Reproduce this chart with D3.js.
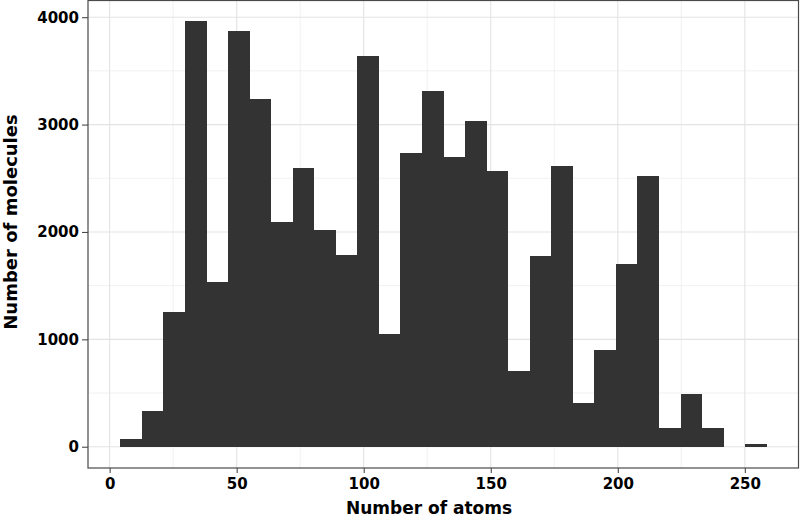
<!DOCTYPE html>
<html>
<head>
<meta charset="utf-8">
<script src="https://cdn.jsdelivr.net/npm/d3@7"></script>
<style>
  body { margin: 0; background: #fff; }
  text { font-family: "DejaVu Sans", Verdana, sans-serif; }
</style>
</head>
<body>
<div id="wrapper"></div>
<script>
// histogram: 30 bins of equal width
const binStart = 4.2
const binWidth = 8.48
const moleculeCounts = [69, 332, 1257, 3962, 1533, 3870, 3235, 2090, 2595, 2018,
    1788, 3641, 1049, 2738, 3312, 2700, 3033, 2570, 708, 1776,
    2614, 410, 898, 1698, 2523, 171, 488, 177, 0, 22]
const xTicks = [0, 50, 100, 150, 200, 250]
const xMinorTicks = [25, 75, 125, 175, 225]
const yTicks = [0, 1000, 2000, 3000, 4000]
const yMinorTicks = [500, 1500, 2500, 3500]
const xTitle = "Number of atoms"
const yTitle = "Number of molecules"

function drawChart() {
    const bins = moleculeCounts.map((count, i) => ({
        x0: binStart + i * binWidth,
        x1: binStart + (i + 1) * binWidth,
        count: count,
    }))
    const xAccessor = d => d.x0
    const yAccessor = d => d.count

    let dimensions = {
        width: 800,
        height: 520,
        margin: {
            top: 0,
            right: 1,
            bottom: 52,
            left: 88,
        },
    }
    dimensions.boundedWidth = dimensions.width
        - dimensions.margin.left
        - dimensions.margin.right
    dimensions.boundedHeight = dimensions.height
        - dimensions.margin.top
        - dimensions.margin.bottom

    const wrapper = d3.select("#wrapper")
        .append("svg")
        .attr("width", dimensions.width)
        .attr("height", dimensions.height)

    const bounds = wrapper.append("g")
        .attr("transform", `translate(${dimensions.margin.left},${dimensions.margin.top})`)

    // ggplot style 5% expansion
    const xMin = d3.min(bins, xAccessor)
    const xMax = d3.max(bins, d => d.x1)
    const xPad = (xMax - xMin) * 0.05
    const xScale = d3.scaleLinear()
        .domain([xMin - xPad, xMax + xPad])
        .range([0, dimensions.boundedWidth])

    const yMax = d3.max(bins, yAccessor)
    const yPad = yMax * 0.05
    const yScale = d3.scaleLinear()
        .domain([-yPad, yMax + yPad])
        .range([dimensions.boundedHeight, 0])

    // grid
    const grid = bounds.append("g")
    grid.selectAll(".minor-x")
        .data(xMinorTicks)
        .join("line")
        .attr("x1", d => xScale(d)).attr("x2", d => xScale(d))
        .attr("y1", 0).attr("y2", dimensions.boundedHeight)
        .attr("stroke", "#ebebeb").attr("stroke-width", 0.7)
    grid.selectAll(".minor-y")
        .data(yMinorTicks)
        .join("line")
        .attr("x1", 0).attr("x2", dimensions.boundedWidth)
        .attr("y1", d => yScale(d)).attr("y2", d => yScale(d))
        .attr("stroke", "#ebebeb").attr("stroke-width", 0.7)
    grid.selectAll(".major-x")
        .data(xTicks)
        .join("line")
        .attr("x1", d => xScale(d)).attr("x2", d => xScale(d))
        .attr("y1", 0).attr("y2", dimensions.boundedHeight)
        .attr("stroke", "#e3e3e3").attr("stroke-width", 1.1)
    grid.selectAll(".major-y")
        .data(yTicks)
        .join("line")
        .attr("x1", 0).attr("x2", dimensions.boundedWidth)
        .attr("y1", d => yScale(d)).attr("y2", d => yScale(d))
        .attr("stroke", "#e3e3e3").attr("stroke-width", 1.1)

    // bars
    bounds.append("g")
        .selectAll("rect")
        .data(bins)
        .join("rect")
        .attr("x", d => xScale(d.x0))
        .attr("width", d => xScale(d.x1) - xScale(d.x0))
        .attr("y", d => yScale(yAccessor(d)))
        .attr("height", d => yScale(0) - yScale(yAccessor(d)))
        .attr("fill", "#333333")
        .attr("shape-rendering", "crispEdges")

    // panel border
    bounds.append("rect")
        .attr("x", 0)
        .attr("y", 0.5)
        .attr("width", dimensions.boundedWidth - 0.5)
        .attr("height", dimensions.boundedHeight - 0.5)
        .attr("fill", "none")
        .attr("stroke", "#4a4a4a")
        .attr("stroke-width", 1.2)

    // axes
    const yAxis = bounds.append("g")
        .call(d3.axisLeft(yScale).tickValues(yTicks).tickSize(6).tickPadding(3).tickFormat(d3.format("d")))
    const xAxis = bounds.append("g")
        .attr("transform", `translate(0,${dimensions.boundedHeight})`)
        .call(d3.axisBottom(xScale).tickValues(xTicks).tickSize(5).tickPadding(5).tickFormat(d3.format("d")))

    ;[xAxis, yAxis].forEach(ax => {
        ax.select(".domain").remove()
        ax.selectAll(".tick line").attr("stroke", "#4a4a4a").attr("stroke-width", 1.1)
        ax.selectAll(".tick text")
            .attr("fill", "#000")
            .style("font-family", "DejaVu Sans")
            .style("font-size", "15px")
            .style("font-weight", "bold")
    })

    // titles
    wrapper.append("text")
        .attr("x", 429)
        .attr("y", 514)
        .attr("text-anchor", "middle")
        .style("font-size", "17px")
        .style("font-weight", "bold")
        .text(xTitle)

    wrapper.append("text")
        .attr("transform", `translate(17,222) rotate(-90)`)
        .attr("text-anchor", "middle")
        .style("font-size", "18px")
        .style("font-weight", "bold")
        .text(yTitle)
}
drawChart()
</script>
</body>
</html>
